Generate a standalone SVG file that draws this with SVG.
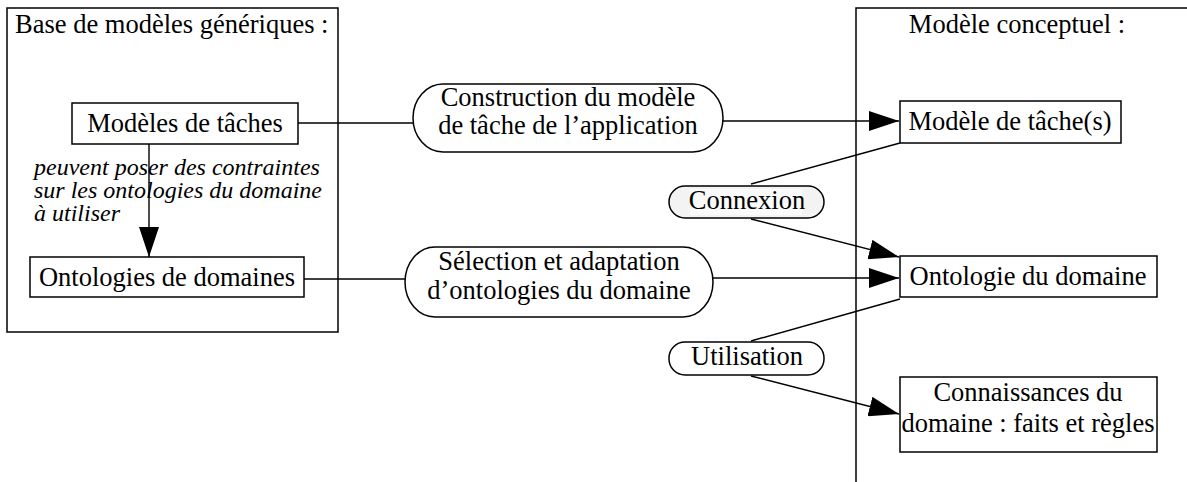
<svg xmlns="http://www.w3.org/2000/svg" width="1187" height="482" viewBox="0 0 1187 482">
<defs>
<style>
text{font-family:"Liberation Serif","Times New Roman",serif;font-size:26.5px;fill:#000}
.c{text-anchor:middle}
.it{font-style:italic;font-size:24px}
.box{fill:#fff;stroke:#000;stroke-width:1.5}
.frame{fill:none;stroke:#000;stroke-width:1.5}
.pill{fill:#fff;stroke:#000;stroke-width:1.5}
.ln{fill:none;stroke:#000;stroke-width:1.4}
</style>
<marker id="ah" markerUnits="userSpaceOnUse" markerWidth="30" markerHeight="20" refX="30" refY="10" orient="auto" viewBox="0 0 30 20">
<path d="M0,0 L30,10 L0,20 z" fill="#000"/>
</marker>
</defs>
<rect width="1187" height="482" fill="#fff"/>

<g id="base-generique">
<rect class="frame" x="7" y="8" width="331" height="324"/>
<text x="15" y="33">Base de modèles génériques :</text>
</g>

<g id="modele-conceptuel">
<rect class="frame" x="856" y="8" width="400" height="500"/>
<text x="1017" y="33" class="c">Modèle conceptuel :</text>
</g>

<g id="connectors">
<line class="ln" x1="149" y1="144" x2="149" y2="257" marker-end="url(#ah)"/>
<line class="ln" x1="298" y1="123" x2="413" y2="123"/>
<line class="ln" x1="723" y1="121" x2="899" y2="121" marker-end="url(#ah)"/>
<line class="ln" x1="304" y1="279" x2="405" y2="279"/>
<line class="ln" x1="713" y1="278" x2="899" y2="278" marker-end="url(#ah)"/>
<line class="ln" x1="751" y1="184" x2="900" y2="143"/>
<line class="ln" x1="751" y1="219" x2="899" y2="257" marker-end="url(#ah)"/>
<line class="ln" x1="751" y1="341" x2="900" y2="299"/>
<line class="ln" x1="751" y1="376" x2="899" y2="414" marker-end="url(#ah)"/>
<text x="34" y="175" class="it">peuvent poser des contraintes</text>
<text x="34" y="198" class="it">sur les ontologies du domaine</text>
<text x="34" y="221" class="it">à utiliser</text>
</g>

<g id="modeles-taches">
<rect class="box" x="72" y="103" width="226" height="41"/>
<text x="185" y="132" class="c">Modèles de tâches</text>
</g>

<g id="ontologies-domaines">
<rect class="box" x="30" y="257" width="274" height="40"/>
<text x="167" y="286" class="c">Ontologies de domaines</text>
</g>

<g id="construction">
<rect class="pill" x="413" y="84" width="310" height="68" rx="30" ry="34"/>
<text x="568" y="106" class="c">Construction du modèle</text>
<text x="568" y="134" class="c">de tâche de l’application</text>
</g>

<g id="selection">
<rect class="pill" x="405" y="247" width="308" height="70" rx="30" ry="35"/>
<text x="559" y="270" class="c">Sélection et adaptation</text>
<text x="559" y="299" class="c">d’ontologies du domaine</text>
</g>

<g id="connexion">
<rect class="pill" x="669" y="186" width="155" height="32" rx="16" ry="16" style="fill:#f3f3f3"/>
<rect x="690" y="189" width="112" height="26" fill="#fafafa"/>
<text x="747" y="209" class="c">Connexion</text>
</g>

<g id="utilisation">
<rect class="pill" x="669" y="342" width="155" height="33" rx="16" ry="16"/>
<text x="747" y="365" class="c">Utilisation</text>
</g>

<g id="modele-taches-app">
<rect class="box" x="900" y="101" width="221" height="42"/>
<text x="1010" y="130" class="c">Modèle de tâche(s)</text>
</g>

<g id="ontologie-domaine">
<rect class="box" x="900" y="256" width="257" height="41"/>
<text x="1028" y="285" class="c">Ontologie du domaine</text>
</g>

<g id="connaissances">
<rect class="box" x="900" y="377" width="257" height="75"/>
<text x="1028" y="401" class="c">Connaissances du</text>
<text x="1028" y="432" class="c">domaine : faits et règles</text>
</g>
</svg>
